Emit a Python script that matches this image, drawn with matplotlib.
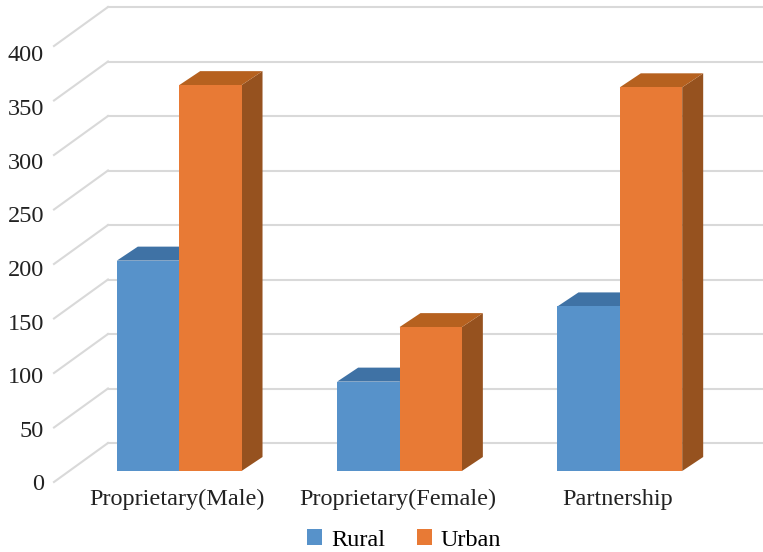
import numpy as np
import matplotlib
matplotlib.use("Agg")
import matplotlib.pyplot as plt
from matplotlib.patches import Polygon, Patch

categories = ["Proprietary(Male)", "Proprietary(Female)", "Partnership"]
rural = [193, 82, 151]
urban = [354, 132, 352]
yticks = [0, 50, 100, 150, 200, 250, 300, 350, 400]

series = [("Rural", rural, "#5792CA", "#3F72A5", "#34608C"),
          ("Urban", urban, "#E87A35", "#B6611F", "#96521F")]

plt.rcParams["font.family"] = ["Liberation Serif", "DejaVu Serif"]

fig = plt.figure(figsize=(7.63, 5.52), dpi=100)
ax = fig.add_axes([69 / 763, 81 / 552, 661 / 763, 436 / 552])
ax.set_xlim(-0.5, 2.5)
ax.set_ylim(0, 400)
ax.axis("off")

# pixel offsets of the depth planes, relative to the bar front plane
FRONT = np.array([-15, -11])
BACK = np.array([39, 28])
BAR_DEPTH = np.array([21, 14])
bar_w = 0.283
fs = 17.5


def pt(x, v, off=(0, 0)):
    disp = ax.transData.transform((x, v)) + np.asarray(off)
    return ax.transData.inverted().transform(disp)


# walls: back gridlines and left side diagonals
grid_c = "#d9d9d9"
for v in yticks:
    a = pt(-0.5, v, BACK)
    b = pt(2.5, v, BACK)
    c = pt(-0.5, v, FRONT)
    ax.plot([a[0], b[0]], [a[1], b[1]], color=grid_c, lw=1.5, clip_on=False, zorder=1)
    ax.plot([c[0], a[0]], [c[1], a[1]], color=grid_c, lw=1.5, clip_on=False, zorder=1)
    # labels sit a little lower than the line ends as the value grows
    lab = pt(-0.5, v, FRONT + np.array([-10, -3 - 0.0175 * v]))
    ax.text(lab[0], lab[1], str(v), ha="right", va="center", fontsize=fs,
            color="#222222")

# 3d-looking bars
handles = []
for k, (name, vals, c_front, c_top, c_side) in enumerate(series):
    for i, v in enumerate(vals):
        x0 = i - bar_w if k == 0 else i
        x1 = x0 + bar_w
        front = [pt(x0, 0), pt(x1, 0), pt(x1, v), pt(x0, v)]
        top = [pt(x0, v), pt(x1, v), pt(x1, v, BAR_DEPTH), pt(x0, v, BAR_DEPTH)]
        side = [pt(x1, 0), pt(x1, 0, BAR_DEPTH), pt(x1, v, BAR_DEPTH), pt(x1, v)]
        z = 3 + k
        ax.add_patch(Polygon(side, closed=True, fc=c_side, ec="none", zorder=z, clip_on=False))
        ax.add_patch(Polygon(top, closed=True, fc=c_top, ec="none", zorder=z, clip_on=False))
        ax.add_patch(Polygon(front, closed=True, fc=c_front, ec="none", zorder=z, clip_on=False))
    handles.append(Patch(fc=c_front, ec="none", label=name))

for i, name in enumerate(categories):
    p = pt(i, 0, (-2, -28))
    ax.text(p[0], p[1], name, ha="center", va="center", fontsize=fs, color="#222222")

fig.legend(handles=handles, loc="center", bbox_to_anchor=(404 / 763, 12 / 552),
           ncol=2, frameon=False, fontsize=fs, handlelength=0.62, handleheight=0.62,
           handletextpad=0.35, columnspacing=1.3, borderaxespad=0)

fig.savefig("out.png", dpi=100)
